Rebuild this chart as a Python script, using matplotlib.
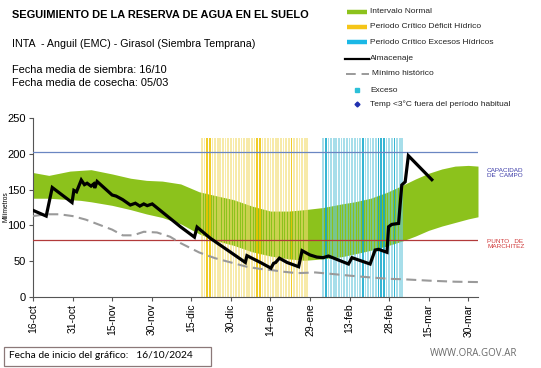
import matplotlib
matplotlib.use("Agg")
import matplotlib.pyplot as plt
from matplotlib.lines import Line2D
from matplotlib.patches import Rectangle
import numpy as np

# ---------------- data ----------------
tick_days = [0, 15, 30, 45, 60, 75, 90, 105, 120, 135, 150, 165]
tick_labels = ['16-oct', '31-oct', '15-nov', '30-nov', '15-dic', '30-dic',
               '14-ene', '29-ene', '13-feb', '28-feb', '15-mar', '30-mar']

band_days = [0, 6, 14, 18, 22, 30, 37, 43, 49, 56, 63, 70, 76, 83, 90, 97,
             103, 110, 117, 122, 128, 134, 140, 145, 150, 155, 160, 165, 168.7]
band_upper = [174, 170, 176, 177, 178, 172, 166, 163, 162, 158, 147, 141, 136,
              127, 120, 120, 122, 125, 130, 133, 138, 146, 156, 165, 173, 179,
              183, 184, 183]
band_lower = [138, 138, 136, 135, 133, 128, 122, 116, 111, 102, 88, 78, 72,
              63, 57, 53, 51, 53, 56, 60, 65, 71, 78, 85, 93, 99, 104, 109, 112]

storage_days = [0, 5, 7.3, 14.8, 15.5, 16.5, 18.3, 19.5, 20.5, 22, 23, 23.4,
                24.3, 30, 31.5, 34, 36.9, 38.8, 40.5, 42, 43.3, 45.2, 55.9,
                61.2, 62.2, 67.2, 80.5, 81.1, 86.2, 90.2, 91.2, 92, 93.4, 96.3,
                100.7, 102, 105, 107.6, 110, 112, 119.6, 120.9, 127.8, 129.7,
                131, 134.2, 134.8, 136, 138.6, 139.8, 141.1, 142.3, 151.2]
storage_mm = [121, 113, 153, 132, 149, 147, 163.5, 157, 159, 155, 158, 152.4,
              161.5, 142.5, 141, 136, 128.5, 131, 127, 130, 127.6, 130, 98,
              83.5, 97.5, 82, 48, 57.5, 48, 40, 46.7, 48, 54, 48,
              42, 64.5, 58.5, 55.5, 54.7, 57, 45.8, 54.7, 45.8, 65.4,
              66.4, 62.2, 98, 101.3, 102.7, 156.5, 161, 197.6, 164]

min_days = [0, 5, 10, 15, 20, 25, 30, 34, 38, 42, 47, 52, 56, 63, 69, 75, 81,
            86, 90, 95, 100, 107, 113, 120, 128, 135, 140, 150, 160, 168.7]
min_mm = [113, 115.5, 115.5, 113, 108, 101, 94, 86, 86, 91, 90, 84, 75, 62,
          54, 48, 42, 39, 37.5, 35, 33, 34, 32, 29.5, 27, 25, 24.5, 22.5, 21,
          20.5]

field_capacity = 203
wilting_point = 80

period_top = 222
deficit_days = list(range(64, 105))
deficit_strong = [66, 67, 85, 86, 98]
excess_days = list(range(110, 141))
excess_strong = [111, 125, 131, 132, 133, 137]

# ---------------- figure ----------------
W, H = 541, 368
fig = plt.figure(figsize=(W / 100, H / 100), dpi=100)
plt.rcParams['font.family'] = ['Liberation Sans', 'DejaVu Sans']

ax_l, ax_r, ax_t, ax_b = 33, 478, 118.3, 296.7
ax = fig.add_axes([ax_l / W, 1 - ax_b / H, (ax_r - ax_l) / W, (ax_b - ax_t) / H])

GREEN = '#8CC21C'
ax.fill_between(band_days, band_lower, band_upper, color=GREEN, lw=0, zorder=1)

for d in deficit_days:
    strong = d in deficit_strong
    ax.bar(d, period_top, width=0.65, bottom=0,
           color='#EEC400' if strong else '#F3DC70',
           alpha=0.85 if strong else 0.6, lw=0, zorder=2)
for d in excess_days:
    strong = d in excess_strong
    ax.bar(d, period_top, width=0.65, bottom=0,
           color='#12A8CC' if strong else '#6CC8DC',
           alpha=0.85 if strong else 0.6, lw=0, zorder=2)

ax.axhline(field_capacity, color='#6A86C2', lw=0.9, zorder=3)
ax.axhline(wilting_point, color='#B23A3A', lw=0.9, zorder=3)

ax.plot(min_days, min_mm, color='#9A9A9A', lw=1.5, dashes=(4.8, 2.6), zorder=4)
ax.plot(storage_days, storage_mm, color='black', lw=2.3, zorder=5,
        solid_joinstyle='miter')

ax.set_xlim(0, 168.7)
ax.set_ylim(0, 250)
ax.set_yticks([0, 50, 100, 150, 200, 250])
ax.set_xticks(tick_days)
ax.set_xticklabels(tick_labels, rotation=90, fontsize=7.5)
ax.tick_params(axis='y', labelsize=8, length=3, width=0.8, color='#555555', pad=2)
ax.tick_params(axis='x', length=3, width=0.8, color='#555555', pad=2)
for s in ['top', 'right']:
    ax.spines[s].set_visible(False)
for s in ['left', 'bottom']:
    ax.spines[s].set_color('#555555')
    ax.spines[s].set_linewidth(0.8)

fig.text(6 / W, 1 - 207 / H, 'Milímetros', rotation=90, fontsize=4.8,
         ha='center', va='center')

# right annotations
fig.text(487 / W, 1 - 173 / H, 'CAPACIDAD\nDE  CAMPO', fontsize=4.6,
         color='#3C3CA8', ha='left', va='center', linespacing=1.1)
fig.text(487 / W, 1 - 244 / H, 'PUNTO   DE\nMARCHITEZ', fontsize=4.6,
         color='#D03A3A', ha='left', va='center', linespacing=1.1)

# titles
fig.text(12 / W, 1 - 15 / H, 'SEGUIMIENTO DE LA RESERVA DE AGUA EN EL SUELO',
         fontsize=7.9, fontweight='bold', ha='left', va='center')
fig.text(12 / W, 1 - 44 / H, 'INTA  - Anguil (EMC) - Girasol (Siembra Temprana)',
         fontsize=7.7, ha='left', va='center')
fig.text(12 / W, 1 - 70 / H, 'Fecha media de siembra: 16/10',
         fontsize=7.9, ha='left', va='center')
fig.text(12 / W, 1 - 83 / H, 'Fecha media de cosecha: 05/03',
         fontsize=7.9, ha='left', va='center')

# legend (manual)
leg = [
    ('patch', GREEN, 'Intervalo Normal', 11.7),
    ('patch', '#F5C518', 'Periodo Crítico Déficit Hídrico', 27),
    ('patch', '#1BB8E6', 'Periodo Crítico Excesos Hídricos', 42),
    ('line', 'black', 'Almacenaje', 58.7),
    ('dash', '#9A9A9A', 'Mínimo histórico', 73.7),
    ('sq', '#2CC0D8', 'Exceso', 90),
    ('dia', '#2030B0', 'Temp <3°C fuera del período habitual', 104),
]
for kind, col, lab, yy in leg:
    yf = 1 - yy / H
    if kind == 'patch':
        fig.add_artist(Line2D([347 / W, 367 / W], [yf, yf], color=col, lw=3.2,
                              solid_capstyle='butt', transform=fig.transFigure))
        tx = 370
    elif kind == 'line':
        fig.add_artist(Line2D([345 / W, 369 / W], [yf, yf], color=col, lw=1.6,
                              transform=fig.transFigure))
        tx = 370
    elif kind == 'dash':
        fig.add_artist(Line2D([346 / W, 369 / W], [yf, yf], color=col, lw=1.4,
                              dashes=(5, 3), transform=fig.transFigure))
        tx = 372
    elif kind == 'sq':
        fig.add_artist(Line2D([357 / W], [yf], color=col, marker='s', ms=2.2,
                              lw=0, transform=fig.transFigure))
        tx = 370
    else:
        fig.add_artist(Line2D([357 / W], [yf], color=col, marker='D', ms=2.5,
                              lw=0, transform=fig.transFigure))
        tx = 370
    fig.text(tx / W, yf, lab, fontsize=6, ha='left', va='center', color='#222222')

# bottom box
fig.add_artist(Rectangle((4 / W, 1 - 365.5 / H), (211 - 4) / W, (365.5 - 347) / H,
                         transform=fig.transFigure, fc='white', ec='#8B7878', lw=0.9))
fig.text(9 / W, 1 - 356 / H, 'Fecha de inicio del gráfico:   16/10/2024',
         fontsize=7.4, family=['Lato', 'DejaVu Sans'], ha='left', va='center')
fig.text(517 / W, 1 - 353 / H, 'WWW.ORA.GOV.AR', fontsize=7, color='#6A6A6A',
         family=['Open Sans', 'DejaVu Sans'], ha='right', va='center')

fig.savefig('out.png', dpi=100)
